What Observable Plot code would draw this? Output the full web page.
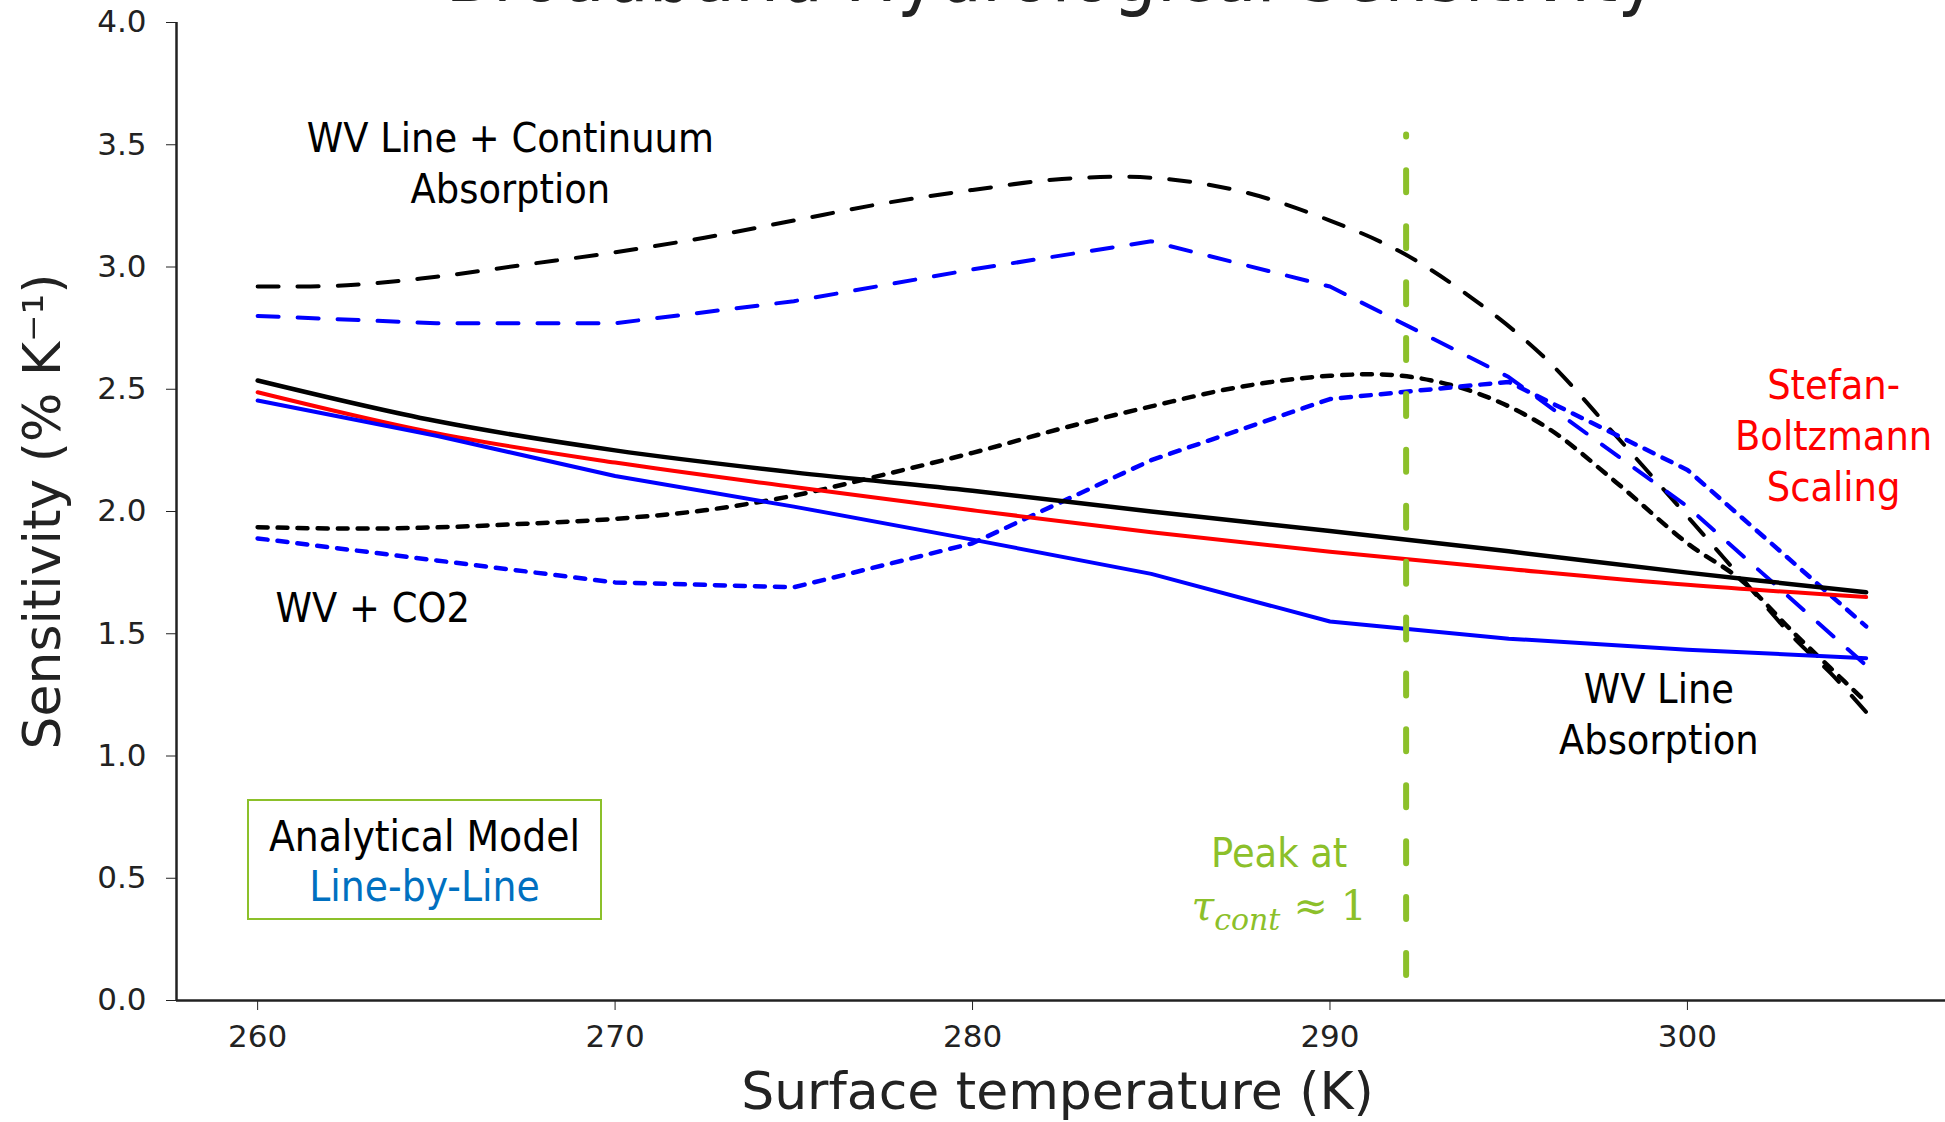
<!DOCTYPE html>
<html><head><meta charset="utf-8">
<script src="https://cdn.jsdelivr.net/npm/d3@7"></script>
<script src="https://cdn.jsdelivr.net/npm/@observablehq/plot@0.6"></script>
<style>
body{margin:0;background:#fff;}
#wrap{position:relative;width:1945px;height:1122px;overflow:hidden;background:#fff;}
#legend{position:absolute;left:247px;top:799px;width:355px;height:121px;box-sizing:border-box;border:2.5px solid #8cc02a;background:#fff;text-align:center;font-family:"DejaVu Sans Condensed","DejaVu Sans",sans-serif;font-size:42px;line-height:50px;padding-top:11px;}
</style></head><body><div id="wrap"></div>
<script>
// ---- data ----
const tempLBL = [260, 265, 270, 275, 280, 285, 290, 295, 300, 305];
const lblWVLine = [2.454, 2.31, 2.145, 2.02, 1.885, 1.745, 1.55, 1.48, 1.435, 1.40];      // blue solid
const lblWVCont = [2.80, 2.77, 2.77, 2.86, 2.99, 3.105, 2.92, 2.55, 2.02, 1.37];         // blue dashed
const lblWVCO2  = [1.89, 1.80, 1.71, 1.69, 1.87, 2.21, 2.46, 2.53, 2.17, 1.53];          // blue dotted

const tempAnalytic = [260, 265, 270, 275, 280, 285, 290, 295, 300, 305];
const anaWVLine = [2.536, 2.37, 2.25, 2.16, 2.085, 2.0, 1.92, 1.837, 1.75, 1.67];        // black solid
const stefanBoltzmann = [2.488, 2.32, 2.20, 2.10, 2.005, 1.915, 1.835, 1.765, 1.70, 1.65]; // red

const tempAnalyticFine = [260, 262.5, 265, 267.5, 270, 272.5, 275, 277.5, 280, 282.5, 285, 287.5, 290, 292, 294, 296, 298, 300, 301.5, 303, 304, 305];
const anaWVCont = [2.92, 2.925, 2.96, 3.01, 3.06, 3.12, 3.19, 3.26, 3.315, 3.36, 3.365, 3.31, 3.19, 3.06, 2.87, 2.63, 2.31, 1.98, 1.73, 1.48, 1.34, 1.18]; // black dashed
const anaWVCO2  = [1.936, 1.93, 1.935, 1.95, 1.97, 2.005, 2.065, 2.15, 2.24, 2.34, 2.43, 2.51, 2.555, 2.555, 2.49, 2.35, 2.12, 1.87, 1.72, 1.50, 1.36, 1.22];  // black dotted

const peakTemperature = 292.13;
const peakRange = [3.54, 0.08];

const xTicks = [260, 270, 280, 290, 300];
const yTicks = [0, 0.5, 1, 1.5, 2, 2.5, 3, 3.5, 4];

const titleText = "Broadband Hydrological Sensitivity";
const xLabel = "Surface temperature (K)";
const yLabel = "Sensitivity (% K\u207B\u00B9)";
const legendLabels = ["Analytical Model", "Line-by-Line"];

const annotations = [
  {text: "WV Line + Continuum\nAbsorption", x: 267.07, y: 3.433, color: "#000"},
  {text: "WV + CO2", x: 263.22, y: 1.614, color: "#000"},
  {text: "WV Line\nAbsorption", x: 299.2, y: 1.18, color: "#000"},
  {text: "Stefan-\nBoltzmann\nScaling", x: 304.09, y: 2.319, color: "#ff0000"},
  {text: "Peak at", x: 288.58, y: 0.615, color: "#8cc02a"},
  {text: "TAU", x: 288.58, y: 0.397, color: "#8cc02a"}
];

// ---- build ----
const zip = (xs, ys) => xs.map((t, i) => ({t, v: ys[i]}));
const annoFont = "DejaVu Sans Condensed, DejaVu Sans, sans-serif";

const chart = Plot.plot({
  width: 1945,
  height: 1122,
  marginLeft: 176,
  marginRight: 0,
  marginTop: 22,
  marginBottom: 122,
  style: {fontFamily: "DejaVu Sans, sans-serif", fontSize: "31px", color: "#222", background: "white", overflow: "visible"},
  x: {domain: [257.73, 307.22], ticks: xTicks, tickSize: 10, tickPadding: 14, tickFormat: d => String(d), label: null},
  y: {domain: [0, 4], ticks: yTicks, tickSize: 10, tickPadding: 20, tickFormat: d3.format(".1f"), label: null},
  marks: [
    Plot.line(zip(tempAnalyticFine, anaWVCont), {x: "t", y: "v", stroke: "#000", strokeWidth: 4, strokeDasharray: "21,19", curve: "catmull-rom"}),
    Plot.line(zip(tempLBL, lblWVCont), {x: "t", y: "v", stroke: "#0000ff", strokeWidth: 4, strokeDasharray: "21,19"}),
    Plot.line(zip(tempAnalyticFine, anaWVCO2), {x: "t", y: "v", stroke: "#000", strokeWidth: 4.5, strokeDasharray: "10,10", curve: "catmull-rom"}),
    Plot.line(zip(tempLBL, lblWVCO2), {x: "t", y: "v", stroke: "#0000ff", strokeWidth: 4.5, strokeDasharray: "10,10"}),
    Plot.line(zip(tempAnalytic, anaWVLine), {x: "t", y: "v", stroke: "#000", strokeWidth: 4.5, curve: "catmull-rom"}),
    Plot.line(zip(tempAnalytic, stefanBoltzmann), {x: "t", y: "v", stroke: "#ff0000", strokeWidth: 4, curve: "catmull-rom"}),
    Plot.line(zip(tempLBL, lblWVLine), {x: "t", y: "v", stroke: "#0000ff", strokeWidth: 4}),
    Plot.ruleX([peakTemperature], {y1: peakRange[0], y2: peakRange[1], stroke: "#8cc02a", strokeWidth: 6, strokeDasharray: "22,33.9", strokeDashoffset: 20, strokeLinecap: "round"}),
    Plot.ruleY([0], {stroke: "#222", strokeWidth: 2.5}),
    Plot.ruleX([257.73], {y1: 0, y2: 4, stroke: "#222", strokeWidth: 2.5}),
    Plot.text(annotations, {x: "x", y: "y", text: "text", fill: "color", fontSize: 41, lineHeight: 1.25, fontFamily: annoFont}),
    Plot.text([titleText], {frameAnchor: "top", dx: -9, dy: -22, lineAnchor: "bottom", fontSize: 77, fill: "#222", fontFamily: annoFont}),
    Plot.text([xLabel], {frameAnchor: "bottom", dx: -3.5, dy: 92, lineAnchor: "middle", fontSize: 52, fill: "#222"}),
    Plot.text([yLabel], {frameAnchor: "left", dx: -133, rotate: -90, textAnchor: "middle", lineAnchor: "middle", fontSize: 52, fill: "#222"})
  ]
});

document.getElementById("wrap").appendChild(chart);

// tau_cont ≈ 1 with subscript
d3.select(chart).selectAll("text").filter(function() { return this.textContent === "TAU"; }).each(function() {
  const t = d3.select(this);
  t.text(null).attr("font-family", "DejaVu Serif, serif");
  t.append("tspan").attr("font-style", "italic").text("\u03C4");
  t.append("tspan").attr("font-style", "italic").attr("font-size", 30).attr("dy", 10).text("cont");
  t.append("tspan").attr("dy", -10).text(" \u2248 1");
});

// legend box
const lg = document.createElement("div");
lg.id = "legend";
lg.innerHTML = `<div style="color:#000">${legendLabels[0]}</div><div style="color:#0070c0">${legendLabels[1]}</div>`;
document.getElementById("wrap").appendChild(lg);
</script></body></html>
